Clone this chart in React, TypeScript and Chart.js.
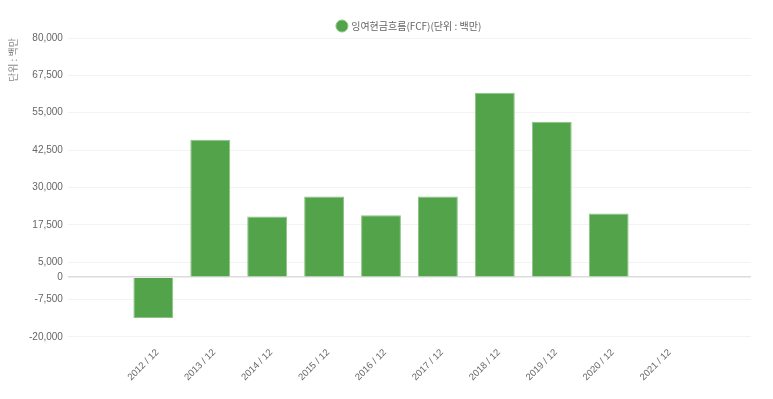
import React, { useEffect, useRef } from "react";
import { Chart, registerables } from "chart.js";

Chart.register(...registerables);

const categories = ["", "2012 / 12", "2013 / 12", "2014 / 12", "2015 / 12", "2016 / 12", "2017 / 12", "2018 / 12", "2019 / 12", "2020 / 12", "2021 / 12", ""];
const fcfValues: (number | null)[] = [null, -13700, 46000, 20300, 27000, 20700, 27000, 61700, 52000, 21300, null, null];
const yTicks = [-20000, -7500, 0, 5000, 17500, 30000, 42500, 55000, 67500, 80000];
const seriesLabel = "잉여현금흐름(FCF)(단위 : 백만)";
const yTitle = "단위 : 백만";

const FONT = "'Liberation Sans', 'Noto Sans CJK KR', sans-serif";
const KFONT = "'Noto Sans CJK KR', sans-serif";

const legendShift = {
  id: "legendShift",
  afterLayout(chart: any) {
    if (chart.legend) {
      chart.legend.left += 32;
      chart.legend.right += 32;
      chart.legend.top += 3;
      chart.legend.bottom += 3;
    }
  },
};

export default function App() {
  const ref = useRef<HTMLCanvasElement | null>(null);
  useEffect(() => {
    if (!ref.current) return;
    const chart = new Chart(ref.current, {
      type: "bar",
      data: {
        labels: categories,
        datasets: [
          {
            label: seriesLabel,
            data: fcfValues,
            backgroundColor: "#52a34a",
            borderColor: "#8cc486",
            borderWidth: 1,
            categoryPercentage: 0.7,
            barPercentage: 1,
          },
        ],
      },
      options: {
        animation: false,
        responsive: false,
        maintainAspectRatio: false,
        layout: { padding: { left: 4, right: 22, top: 6, bottom: 14 } },
        plugins: {
          legend: {
            position: "top",
            labels: {
              usePointStyle: true,
              pointStyle: "circle",
              boxWidth: 8.5,
              boxHeight: 8.5,
              color: "#666",
              font: { family: KFONT, size: 10 },
              padding: 12,
            },
          },
          tooltip: { enabled: false },
        },
        scales: {
          x: {
            grid: { display: false },
            border: { display: false },
            ticks: {
              color: "#666",
              font: { family: FONT, size: 9.5 },
              maxRotation: 45,
              minRotation: 45,
              autoSkip: false,
              padding: 2,
              labelOffset: 4,
            },
          },
          y: {
            min: -20000,
            max: 80000,
            afterBuildTicks: (axis: any) => {
              axis.ticks = yTicks.map((v) => ({ value: v }));
            },
            grid: {
              color: (ctx: any) => (ctx.tick && ctx.tick.value === 0 ? "#dcdcdc" : "#f3f3f3"),
              lineWidth: (ctx: any) => (ctx.tick && ctx.tick.value === 0 ? 1.5 : 1),
              drawTicks: false,
            },
            border: { display: false },
            ticks: {
              color: "#666",
              font: { family: FONT, size: 10 },
              padding: 5,
              callback: (v: any) => Number(v).toLocaleString("en-US"),
            },
            title: {
              display: true,
              text: yTitle,
              align: "end",
              color: "#888",
              font: { family: KFONT, size: 10 },
              padding: { top: 3, bottom: 5 },
            },
          },
        },
      },
      plugins: [legendShift],
    });
    return () => chart.destroy();
  }, []);
  return (
    <div style={{ position: "absolute", left: 0, top: 0, width: 773, height: 399 }}>
      <canvas ref={ref} width={773} height={399} style={{ width: 773, height: 399 }} />
    </div>
  );
}
